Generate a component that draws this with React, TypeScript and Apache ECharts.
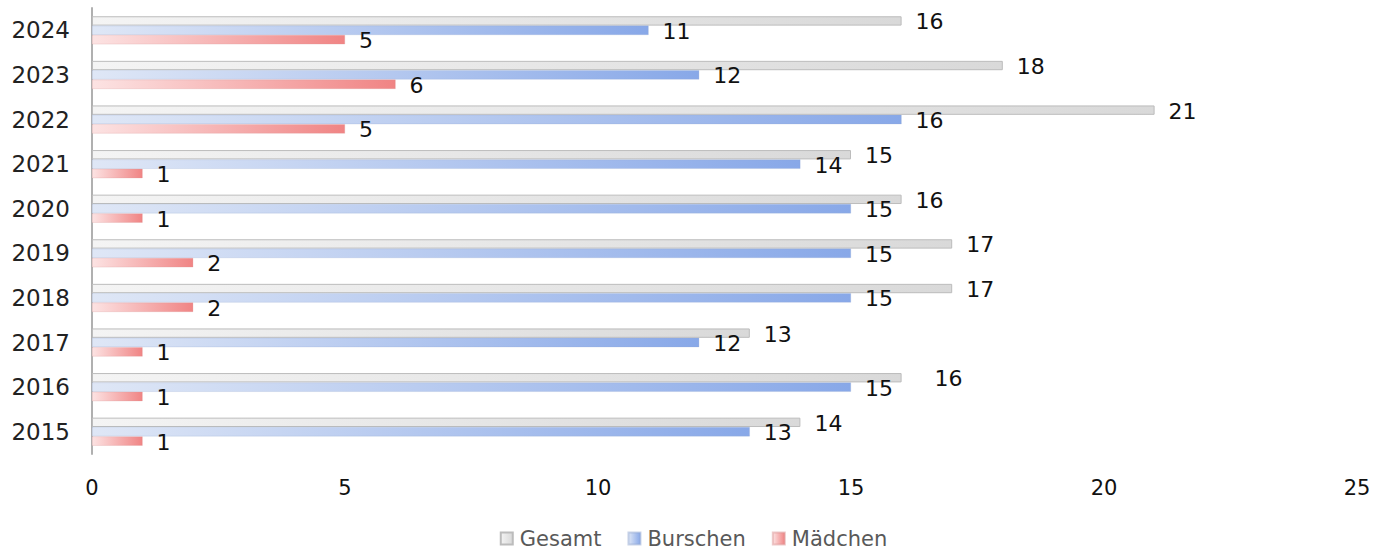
import React, { useEffect, useRef } from "react";
import * as echarts from "echarts";

const years = ["2015", "2016", "2017", "2018", "2019", "2020", "2021", "2022", "2023", "2024"];
const gesamt = [14, 16, 13, 17, 17, 16, 15, 21, 18, 16];
const burschen = [13, 15, 12, 15, 15, 15, 14, 16, 12, 11];
const maedchen = [1, 1, 1, 2, 2, 1, 1, 5, 6, 5];
const xTicks = { min: 0, max: 25, interval: 5 };

const FONT = "DejaVu Sans";

function grad(c0: string, c1: string) {
  return new echarts.graphic.LinearGradient(0, 0, 1, 0, [
    { offset: 0, color: c0 },
    { offset: 1, color: c1 },
  ]);
}

export default function App() {
  const ref = useRef<HTMLDivElement>(null);
  useEffect(() => {
    if (!ref.current) return;
    const chart = echarts.init(ref.current, undefined, { renderer: "svg" });
    const label = {
      show: true,
      position: "right" as const,
      distance: 14,
      color: "#111",
      fontFamily: FONT,
      fontSize: 22,
    };
    chart.setOption({
      animation: false,
      textStyle: { fontFamily: FONT },
      grid: { left: 92, right: 30, top: 8, bottom: 97, containLabel: false },
      legend: {
        bottom: -3,
        left: "center",
        itemWidth: 12,
        itemHeight: 12,
        itemGap: 26,
        icon: "rect",
        data: ["Gesamt", "Burschen", "Mädchen"],
        textStyle: { fontFamily: FONT, fontSize: 21, color: "#595959", padding: [0, 0, 0, 2] },
      },
      xAxis: {
        type: "value",
        min: xTicks.min,
        max: xTicks.max,
        interval: xTicks.interval,
        axisLine: { show: false },
        axisTick: { show: false },
        splitLine: { show: false },
        axisLabel: { color: "#111", fontFamily: FONT, fontSize: 21, margin: 23 },
      },
      yAxis: {
        type: "category",
        data: years,
        axisLine: { show: true, lineStyle: { color: "#b0b0b0", width: 2 } },
        axisTick: { show: false },
        axisLabel: { color: "#222", fontFamily: FONT, fontSize: 23, margin: 22 },
      },
      series: [
        {
          name: "Gesamt",
          type: "bar",
          data: gesamt.map((v, i) =>
            years[i] === "2016" ? { value: v, label: { offset: [19, 1] } } : v
          ),
          barGap: "0%",
          barCategoryGap: "37%",
          itemStyle: { color: grad("#f4f4f4", "#d9d9d9"), borderColor: "#bcbcbc", borderWidth: 1 },
          label: { ...label, offset: [0, 1] },
        },
        {
          name: "Burschen",
          type: "bar",
          data: burschen,
          barGap: "0%",
          barCategoryGap: "37%",
          itemStyle: { color: grad("#dfe7f6", "#88a8e8"), borderColor: "rgba(150,170,210,0.5)", borderWidth: 0.5 },
          label: { ...label, offset: [0, 1] },
        },
        {
          name: "Mädchen",
          type: "bar",
          data: maedchen,
          barGap: "0%",
          barCategoryGap: "37%",
          itemStyle: { color: grad("#fce3e3", "#f08484"), borderColor: "rgba(220,150,150,0.5)", borderWidth: 0.5 },
          label: { ...label, offset: [0, 1] },
        },
      ],
    });
    return () => chart.dispose();
  }, []);
  return (
    <div
      ref={ref}
      style={{ position: "absolute", left: 0, top: 0, width: 1387, height: 551 }}
    />
  );
}
